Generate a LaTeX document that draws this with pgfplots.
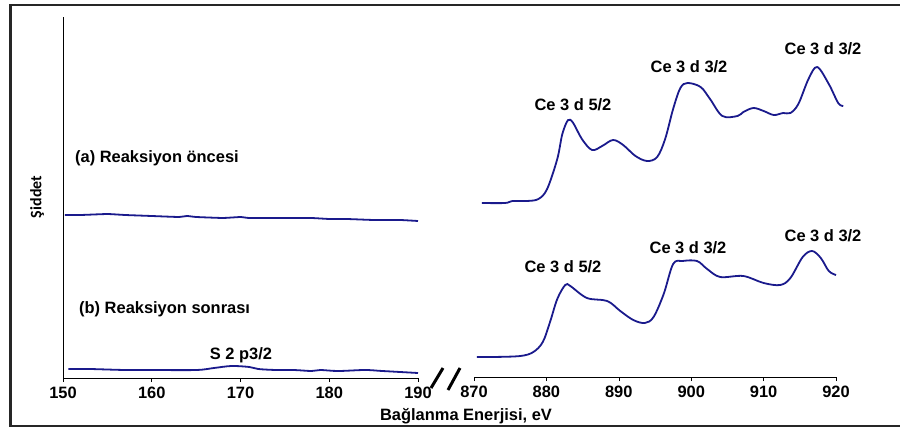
\documentclass[border=0pt]{standalone}
\usepackage{pgfplots}
\pgfplotsset{compat=1.18}
\usepackage{fontspec}
\setmainfont{Liberation Sans}
\newfontfamily\calib{Carlito}
\definecolor{spec}{RGB}{26,26,140}

\pgfplotsset{
  xpsbase/.style={
    scale only axis, height=361bp, ymin=0, ymax=361,
    axis x line*=bottom,
    ytick=\empty,
    tick align=outside, major tick length=4bp,
    every tick/.style={black, line width=0.6bp},
    axis line style={black, line width=0.8bp},
    xticklabel style={font=\fontsize{16.5}{16.5}\selectfont\bfseries, yshift=-1.5bp},
    /pgf/number format/assume math mode=true,
    /pgf/number format/set thousands separator={},
    clip=false,
  },
  spec/.style={color=spec, line width=1.8bp, smooth, tension=0.55, no markers},
}

\begin{document}
\begin{tikzpicture}[x=1bp, y=1bp]
\path[use as bounding box] (0,0) rectangle (900,428);
% frame
\draw[line width=2.2bp, black!85] (905,2) -- (10.5,2) -- (10.5,423) -- (905,423);

% left panel 150-190 eV
\begin{axis}[xpsbase, at={(63bp,50bp)}, anchor=south west, width=355bp,
  xmin=150, xmax=190, xtick={150,160,170,180,190}, axis y line*=left]
\addplot[spec, tension=0.2] coordinates {
  (150.2,163)(152,163)(155,164)(157,163)(160,162)(163,161)(164,162)(165,161)
  (168,160)(170,161)(171,160)(175,160)(178,160)(180,159)(182,159)(185,158)
  (188,158)(190,157)};
\addplot[spec] coordinates {
  (150.6,9)(153,9)(157,8)(160,8)(165,8)(167,10)(169,12)(171,11)(172,9)
  (174,8)(176,8)(178,7)(179,8)(181,7)(184,8)(186,7)(190,5)};
\end{axis}

% right panel 870-920 eV
\begin{axis}[xpsbase, at={(474bp,51bp)}, anchor=south west, width=362bp,
  xmin=870, xmax=920, xtick={870,880,890,900,910,920}, axis y line=none]
\addplot[spec] coordinates {
  (871.1,174)(874.3,174)(875.3,176)(877.3,176)(878.9,178)(880.1,188)
  (881.5,218)(882.2,243)(883,257)(883.7,254)(884.9,238)(886.3,227)
  (887.7,231)(889.2,237)(890.6,232)(892.3,221)(893.9,216)(895.3,220)
  (896.4,238)(897.5,268)(898.5,289)(899.5,294)(901.3,290)(902.6,278)
  (904.3,261)(906.4,261)(907.2,265)(908.6,269)(910,266)(911.4,262)
  (912.7,264)(913.7,264)(914.8,273)(916.2,298)(917.4,310)(919,293)
  (920.3,274)(921,271)};
\addplot[spec] coordinates {
  (870.4,20)(872.6,20)(876.4,21)(878.2,25)(879.5,35)(880.5,55)(881.5,78)
  (882.6,92)(883.3,91)(885.6,79)(888.4,76)(890.2,66)(892,57)(893.6,54)
  (894.8,60)(896.2,83)(897.5,113)(898.8,116)(900.8,116)(902.2,108)
  (904,100)(907.2,101)(910,94)(912.3,92)(913.7,99)(915.4,120)(916.7,126)
  (917.9,119)(919,106)(920,102)};
\end{axis}

% axis break
\draw[line width=3bp] (431,40) -- (443,60);
\draw[line width=3bp] (448,38) -- (460,60);

% labels
\begin{scope}[every node/.style={font=\fontsize{16.5}{17}\selectfont\bfseries, inner sep=0pt}]
\node[anchor=west] at (75,270) {(a) Reaksiyon öncesi};
\node[anchor=west] at (79,119) {(b) Reaksiyon sonrası};
\node at (241,73) {S 2 p3/2};
\node at (573,323) {Ce 3 d 5/2};
\node at (689,361) {Ce 3 d 3/2};
\node at (823,379) {Ce 3 d 3/2};
\node at (563,161) {Ce 3 d 5/2};
\node at (688,180) {Ce 3 d 3/2};
\node at (823,192) {Ce 3 d 3/2};
\node at (466,12) {Bağlanma Enerjisi, eV};
\end{scope}
\node[rotate=90, font=\calib\fontsize{16}{16}\selectfont\bfseries, inner sep=0pt] at (37,231) {Şiddet};
\end{tikzpicture}
\end{document}
